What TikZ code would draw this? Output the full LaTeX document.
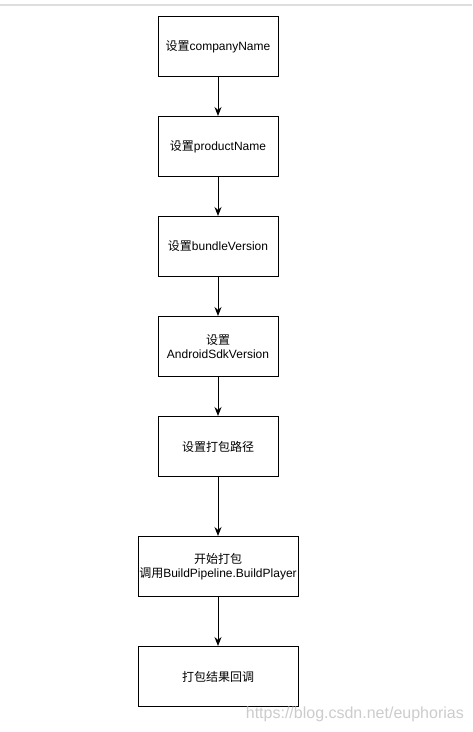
\documentclass[tikz,border=0pt]{standalone}
\usepackage{fontspec}
\setmainfont{Liberation Sans}
\newfontfamily\cjk{Noto Sans CJK SC}
\usetikzlibrary{arrows.meta}
\begin{document}
\begin{tikzpicture}[x=1pt,y=-1pt,
  box/.style={draw,line width=1pt,minimum width=120pt,minimum height=60pt,inner sep=0pt,align=center,font=\fontsize{12}{14}\selectfont,anchor=north},
  widebox/.style={box,minimum width=160pt},
  arr/.style={draw,line width=1pt,-{Stealth[length=9pt,width=7pt]}}]
\useasboundingbox (0,0) rectangle (472,732);
\fill[white] (0,0) rectangle (472,732);
\fill[black!13] (0,3.5) rectangle (472,6);
\node[box] (b1) at (218,16) {{\cjk 设置}companyName};
\node[box] (b2) at (218,116) {{\cjk 设置}productName};
\node[box] (b3) at (218,216) {{\cjk 设置}bundleVersion};
\node[box] (b4) at (218,316) {{\cjk 设置}\\AndroidSdkVersion};
\node[box] (b5) at (218,416) {{\cjk 设置打包路径}};
\node[widebox] (b6) at (218,536) {{\cjk 开始打包}\\{\cjk 调用}BuildPipeline.BuildPlayer};
\node[widebox] (b7) at (218,646) {{\cjk 打包结果回调}};
\draw[arr] (b1) -- (b2);
\draw[arr] (b2) -- (b3);
\draw[arr] (b3) -- (b4);
\draw[arr] (b4) -- (b5);
\draw[arr] (b5) -- (b6);
\draw[arr] (b6) -- (b7);
\node[anchor=east,text=black!20,font=\fontsize{16}{18}\selectfont,inner sep=0pt] (wm) at (464,714) {https://blog.csdn.net/euphorias};
\end{tikzpicture}
\end{document}
